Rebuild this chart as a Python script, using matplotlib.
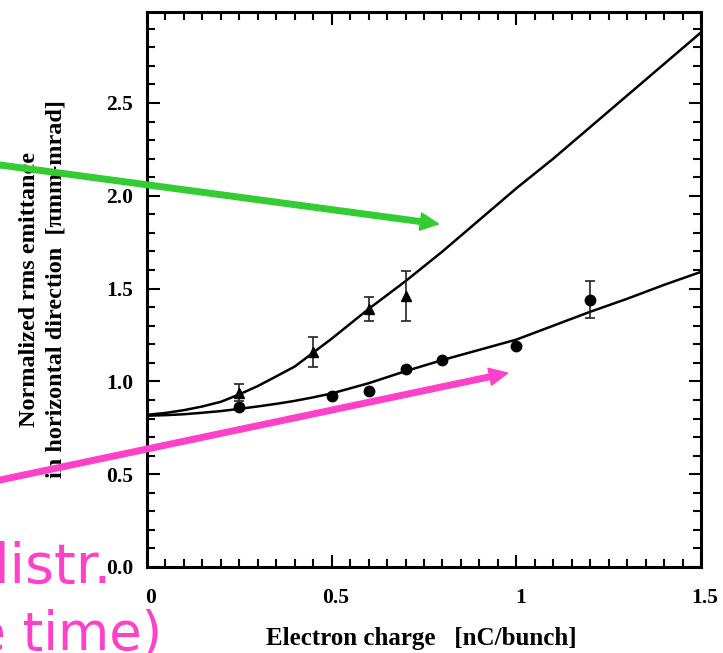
import numpy as np
import matplotlib
matplotlib.use("Agg")
import matplotlib.pyplot as plt
from matplotlib.ticker import MultipleLocator, FormatStrFormatter
import matplotlib.transforms as mtransforms

# ---- measured emittance vs. bunch charge ----
tri_q = [0.25, 0.45, 0.60, 0.70]
tri_eps = [0.94, 1.16, 1.39, 1.46]
tri_err = [0.045, 0.08, 0.065, 0.135]

circ_q = [0.25, 0.50, 0.60, 0.70, 0.80, 1.00, 1.20]
circ_eps = [0.86, 0.92, 0.95, 1.065, 1.115, 1.19, 1.44]
circ_err = [0.0, 0.0, 0.0, 0.0, 0.0, 0.0, 0.10]

# ---- simulated emittance curves ----
sim_q = [0.0, 0.05, 0.1, 0.15, 0.2, 0.25, 0.3, 0.35, 0.4, 0.45, 0.5, 0.6, 0.7, 0.8,
         0.9, 1.0, 1.1, 1.2, 1.3, 1.4, 1.5]
sim_upper = [0.82, 0.83, 0.845, 0.865, 0.89, 0.93, 0.975, 1.027, 1.08, 1.155, 1.23,
             1.39, 1.54, 1.70, 1.87, 2.04, 2.20, 2.37, 2.54, 2.71, 2.88]
sim_lower = [0.815, 0.818, 0.823, 0.831, 0.84, 0.852, 0.865, 0.879, 0.895, 0.914, 0.935,
             0.99, 1.055, 1.115, 1.17, 1.225, 1.30, 1.375, 1.445, 1.52, 1.59]

x_ticks = [0, 0.5, 1.0, 1.5]
x_ticklabels = ["0", "0.5", "1", "1.5"]
y_ticks = [0.0, 0.5, 1.0, 1.5, 2.0, 2.5]

# pointer targets on the two curves (data coords) and tails (figure pixels)
green_tip = (0.789, 1.848)
green_tail = (0, 488)
pink_tip = (0.976, 1.045)
pink_tail = (0, 173)

GREEN = "#33cc33"
PINK = "#ff40c8"

W, H = 723, 653
fig = plt.figure(figsize=(W / 100, H / 100), dpi=100)
ax = fig.add_axes([147 / W, 1 - 567 / H, (701 - 147) / W, (567 - 12) / H])

serif = "Liberation Serif"

ax.plot(sim_q, sim_upper, color="black", lw=1.8, zorder=3)
ax.plot(sim_q, sim_lower, color="black", lw=1.8, zorder=3)

ax.errorbar(tri_q, tri_eps, yerr=tri_err, fmt="^", color="black", ms=7.5,
            ecolor="#222222", elinewidth=1.2, capsize=3.6, capthick=1.2, zorder=4)

circ_q_a = np.array(circ_q)
circ_eps_a = np.array(circ_eps)
circ_err_a = np.array(circ_err)
has_err = circ_err_a > 0
ax.errorbar(circ_q_a[has_err], circ_eps_a[has_err], yerr=circ_err_a[has_err], fmt="none",
            ecolor="#222222", elinewidth=1.2, capsize=3.6, capthick=1.2, zorder=4)
ax.plot(circ_q, circ_eps, "o", color="black", ms=7.5, zorder=5)

ax.set_xlim(0, 1.5)
ax.set_ylim(0, 2.99)

ax.set_xticks(x_ticks)
ax.set_xticklabels(x_ticklabels)
ax.set_yticks(y_ticks)
ax.yaxis.set_major_formatter(FormatStrFormatter("%.1f"))
ax.xaxis.set_minor_locator(MultipleLocator(0.05))
ax.yaxis.set_minor_locator(MultipleLocator(0.1))

for sp in ax.spines.values():
    sp.set_linewidth(2.2)

ax.tick_params(which="both", direction="in", top=True, right=True, width=1.5)
ax.tick_params(which="major", length=9)
ax.tick_params(which="minor", length=5.5)
ax.tick_params(axis="x", which="major", pad=15)
ax.tick_params(axis="y", which="major", pad=10)

for lab in ax.get_xticklabels() + ax.get_yticklabels():
    lab.set_fontfamily(serif)
    lab.set_fontweight("bold")
    lab.set_fontsize(15.5)

shift = mtransforms.ScaledTranslation(4 / 100, 0, fig.dpi_scale_trans)
for lab in ax.get_xticklabels():
    lab.set_transform(lab.get_transform() + shift)

ax.set_xlabel("Electron charge   [nC/bunch]", fontfamily=serif, fontweight="bold",
              fontsize=18)
ax.xaxis.set_label_coords((421 - 147) / 554, (567 - 638) / 555)
ax.xaxis.label.set_va("center")

ax.set_ylabel("Normalized rms emittance\nin horizontal direction  [\u03c0mm-mrad]",
              fontfamily=serif, fontweight="bold", fontsize=17.5, linespacing=1.35)
ax.yaxis.set_label_coords((43 - 147) / 554, 0.5)
ax.yaxis.label.set_va("center")
ax.yaxis.label.set_ha("center")

# pointer arrows from the side notes to the curves
for tip, tail, col in [(green_tip, green_tail, GREEN), (pink_tip, pink_tail, PINK)]:
    ax.annotate("", xy=tip, xycoords="data", xytext=tail, textcoords="figure pixels",
                arrowprops=dict(arrowstyle="simple,head_length=1.3,head_width=1.25,tail_width=0.4",
                                color=col, shrinkA=0, shrinkB=0, mutation_scale=10),
                annotation_clip=False, zorder=6)

fig.text(111 / W, (H - 583) / H, "Gaussian distr.", color=PINK, fontsize=40,
         fontfamily="DejaVu Sans", ha="right", va="baseline")
fig.text(162 / W, (H - 650) / H, "(same time)", color=PINK, fontsize=38,
         fontfamily="DejaVu Sans", ha="right", va="baseline")

fig.savefig("out.png", dpi=100)
